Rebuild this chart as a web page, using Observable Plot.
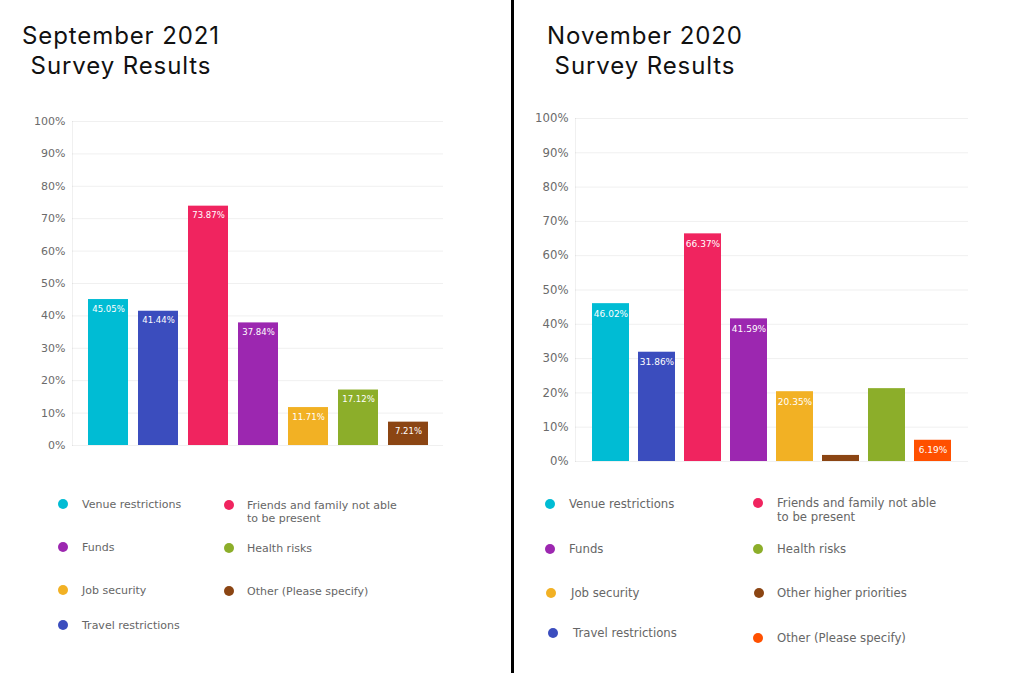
<!DOCTYPE html>
<html>
<head>
<meta charset="utf-8">
<script src="https://cdn.jsdelivr.net/npm/d3@7"></script>
<script src="https://cdn.jsdelivr.net/npm/@observablehq/plot@0.6"></script>
<style>
  html, body { margin: 0; padding: 0; background: #fff; }
  #root { position: relative; width: 1024px; height: 673px; overflow: hidden; background: #fff; }
  .divider { position: absolute; left: 511px; top: 0; width: 3px; height: 673px; background: #000; z-index: 10; }
  .title { position: absolute; width: 320px; text-align: center; font-family: Inter, "Noto Sans", sans-serif;
           font-size: 24px; line-height: 30px; color: #111; letter-spacing: 0.9px; }
  .panel-svg { position: absolute; }
  .dot { position: absolute; width: 10px; height: 10px; border-radius: 50%; }
  .lab { position: absolute; font-family: "DejaVu Sans", sans-serif; color: #666; }
</style>
</head>
<body>
<div id="root"><div class="divider"></div></div>
<script>
// ---------- data ----------
const catsSep = ["Venue restrictions", "Travel restrictions", "Friends and family not able to be present", "Funds", "Job security", "Health risks", "Other (Please specify)"];
const valuesSep = [45.05, 41.44, 73.87, 37.84, 11.71, 17.12, 7.21];
const showLabelSep = [true, true, true, true, true, true, true];
const colorsSep = ["#00BCD4", "#3B4DBE", "#F0245F", "#9C27B0", "#F2B124", "#8CAE2A", "#8B4513"];

const catsNov = ["Venue restrictions", "Travel restrictions", "Friends and family not able to be present", "Funds", "Job security", "Other higher priorities", "Health risks", "Other (Please specify)"];
const valuesNov = [46.02, 31.86, 66.37, 41.59, 20.35, 1.77, 21.24, 6.19];
const showLabelNov = [true, true, true, true, true, false, false, true];
const colorsNov = ["#00BCD4", "#3B4DBE", "#F0245F", "#9C27B0", "#F2B124", "#8B4513", "#8CAE2A", "#FF5000"];

const yTicks = [0, 10, 20, 30, 40, 50, 60, 70, 80, 90, 100];

const titleSep = ["September 2021", "Survey Results"];
const titleNov = ["November 2020", "Survey Results"];

const legendSepCol1 = ["Venue restrictions", "Funds", "Job security", "Travel restrictions"];
const legendSepCol2 = ["Friends and family not able to be present", "Health risks", "Other (Please specify)"];
const legendNovCol1 = ["Venue restrictions", "Funds", "Job security", "Travel restrictions"];
const legendNovCol2 = ["Friends and family not able to be present", "Health risks", "Other higher priorities", "Other (Please specify)"];

// ---------- layout ----------
const panels = [
  {
    cats: catsSep, values: valuesSep, show: showLabelSep, colors: colorsSep, title: titleSep,
    titleCenter: 121, svgLeft: 0, svgTop: 100, width: 460, height: 360,
    mTop: 21, mBottom: 15, mLeft: 72, mRight: 17, padIn: 0.2, padOut: 0.29,
    axisFont: 11, barFont: 8.5, barDy: 9.5,
    legendFont: 11, legendLH: 13, legendWidth: 156,
    cols: [
      {items: legendSepCol1, cx: [63, 63, 63, 63], tx: [82, 82, 82, 82], ys: [504, 547, 590, 625]},
      {items: legendSepCol2, cx: [229, 229, 229], tx: [247, 247, 247], ys: [505, 548, 591]}
    ]
  },
  {
    cats: catsNov, values: valuesNov, show: showLabelNov, colors: colorsNov, title: titleNov,
    titleCenter: 645, svgLeft: 512, svgTop: 100, width: 470, height: 370,
    mTop: 18, mBottom: 9, mLeft: 63, mRight: 14, padIn: 0.2, padOut: 0.35,
    axisFont: 11.7, barFont: 9, barDy: 10,
    legendFont: 11.7, legendLH: 14, legendWidth: 165,
    cols: [
      {items: legendNovCol1, cx: [550, 550, 551, 553], tx: [569, 569, 571, 573], ys: [504, 549, 593, 633]},
      {items: legendNovCol2, cx: [758, 758, 759, 758], tx: [777, 777, 777, 777], ys: [503, 549, 593, 638]}
    ]
  }
];

const root = document.getElementById("root");

for (const p of panels) {
  const data = p.cats.map((c, i) => ({cat: c, value: p.values[i], show: p.show[i]}));
  const chart = Plot.plot({
    width: p.width,
    height: p.height,
    marginTop: p.mTop,
    marginBottom: p.mBottom,
    marginLeft: p.mLeft,
    marginRight: p.mRight,
    style: {fontFamily: "DejaVu Sans", fontSize: p.axisFont + "px", color: "#6b6b6b", background: "white"},
    x: {domain: p.cats, axis: null, paddingInner: p.padIn, paddingOuter: p.padOut},
    y: {domain: [0, 100], ticks: yTicks, tickFormat: d => d + "%", grid: true, tickSize: 0, tickPadding: 7, label: null},
    color: {domain: p.cats, range: p.colors},
    marks: [
      Plot.frame({anchor: "left", stroke: "#000", strokeOpacity: 0.06}),
      Plot.barY(data, {x: "cat", y: "value", fill: "cat"}),
      Plot.text(data.filter(d => d.show), {
        x: "cat", y: "value", text: d => d.value.toFixed(2) + "%",
        dy: p.barDy, fill: "white", fontSize: p.barFont
      })
    ]
  });
  chart.classList.add("panel-svg");
  chart.style.left = p.svgLeft + "px";
  chart.style.top = p.svgTop + "px";
  root.appendChild(chart);

  // title
  const t = document.createElement("div");
  t.className = "title";
  t.style.left = (p.titleCenter - 160) + "px";
  t.style.top = "21px";
  t.innerHTML = p.title.join("<br>");
  root.appendChild(t);

  // legend
  const colorOf = Object.fromEntries(p.cats.map((c, i) => [c, p.colors[i]]));
  for (const col of p.cols) {
    col.items.forEach((name, i) => {
      const cy = col.ys[i];
      const d = document.createElement("div");
      d.className = "dot";
      d.style.background = colorOf[name];
      d.style.left = (col.cx[i] - 5) + "px";
      d.style.top = (cy - 5) + "px";
      root.appendChild(d);
      const l = document.createElement("div");
      l.className = "lab";
      l.style.fontSize = p.legendFont + "px";
      l.style.lineHeight = p.legendLH + "px";
      l.style.width = p.legendWidth + "px";
      l.style.left = col.tx[i] + "px";
      l.style.top = (cy - p.legendLH / 2) + "px";
      l.textContent = name;
      root.appendChild(l);
    });
  }
}
</script>
</body>
</html>
